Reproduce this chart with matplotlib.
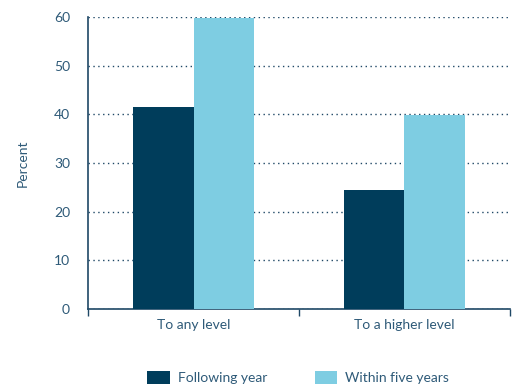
import matplotlib.pyplot as plt
import numpy as np

plt.rcParams['font.family'] = ['Lato', 'DejaVu Sans']

categories = ['To any level', 'To a higher level']
following_year = [41.5, 24.5]
within_five_years = [59.8, 39.9]
series_names = ['Following year', 'Within five years']

dark = '#003d5b'
light = '#7ecde2'
text_col = '#2e5a78'
axis_col = '#1f4866'

fig = plt.figure(figsize=(5.15, 3.88), dpi=100)
ax = fig.add_axes([0.171, 0.2036, 0.819, 0.7526])

x = np.arange(len(categories)) + 0.5
w = 0.286
ax.bar(x - w / 2, following_year, w, color=dark, label=series_names[0], zorder=3)
ax.bar(x + w / 2, within_five_years, w, color=light, label=series_names[1], zorder=3)

ax.set_xlim(0, 2)
ax.set_ylim(0, 60)
ax.set_yticks(range(0, 61, 10))
ax.yaxis.grid(True, linestyle=(0, (1, 2.5)), color=axis_col, linewidth=1.0, zorder=0)
ax.tick_params(axis='y', length=0, pad=13, labelsize=10, labelcolor=text_col)

# category boundaries get tick marks, names sit between them
ax.set_xticks([0, 1, 2])
ax.set_xticklabels([])
ax.set_xticks(x, minor=True)
ax.set_xticklabels(categories, minor=True)
ax.tick_params(axis='x', which='major', direction='out', length=5, color=axis_col, width=1)
ax.tick_params(axis='x', which='minor', length=0, pad=7, labelsize=10, labelcolor=text_col)

for s in ['top', 'right']:
    ax.spines[s].set_visible(False)
for s in ['left', 'bottom']:
    ax.spines[s].set_color(axis_col)
    ax.spines[s].set_linewidth(1.2)

ax.set_ylabel('Percent', color=text_col, fontsize=10, labelpad=18)

fig.legend(loc='center', bbox_to_anchor=(0.579, 0.027), ncol=2, frameon=False,
           fontsize=10, labelcolor=text_col, handlelength=1.6, handleheight=1.1,
           columnspacing=3.4, handletextpad=0.6)

fig.savefig('out.png', dpi=100)
